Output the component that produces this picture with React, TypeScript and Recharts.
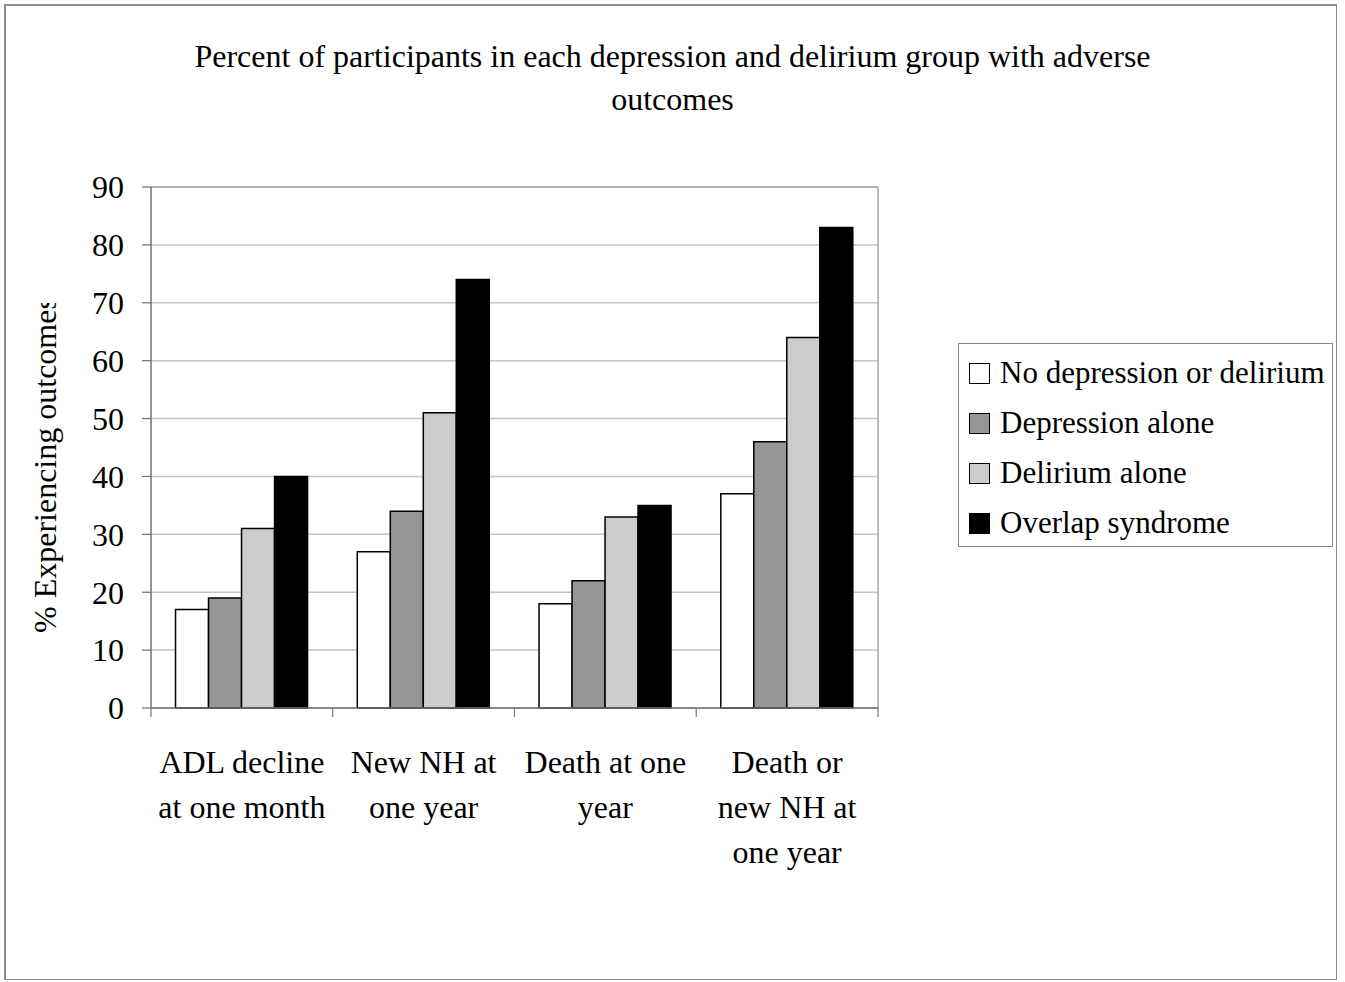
import React from 'react';
import { BarChart, Bar, XAxis, YAxis, CartesianGrid, ReferenceLine } from 'recharts';

// chart values
const categoryLines: string[][] = [
  ['ADL decline', 'at one month'],
  ['New NH at', 'one year'],
  ['Death at one', 'year'],
  ['Death or', 'new NH at', 'one year'],
];
const seriesNames = [
  'No depression or delirium',
  'Depression alone',
  'Delirium alone',
  'Overlap syndrome',
];
const seriesColors = ['#ffffff', '#969696', '#cccccc', '#000000'];
const noDepressionOrDelirium = [17, 27, 18, 37];
const depressionAlone = [19, 34, 22, 46];
const deliriumAlone = [31, 51, 33, 64];
const overlapSyndrome = [40, 74, 35, 83];
const yTicks = [0, 10, 20, 30, 40, 50, 60, 70, 80, 90];
const titleLines = [
  'Percent of participants in each depression and delirium group with adverse',
  'outcomes',
];
const yLabel = '% Experiencing outcomes';

const seriesValues = [noDepressionOrDelirium, depressionAlone, deliriumAlone, overlapSyndrome];
const seriesKeys = ['s0', 's1', 's2', 's3'];

const data = categoryLines.map((lines, i) => {
  const row: Record<string, any> = { name: lines.join(' ') };
  seriesKeys.forEach((k, s) => {
    row[k] = seriesValues[s][i];
  });
  return row;
});

const FONT = '"Liberation Serif", "Times New Roman", serif';
const W = 1345;
const H = 982;
const PLOT_LEFT = 151;
const PLOT_RIGHT = 878;
const PLOT_TOP = 187;
const PLOT_BOTTOM = 708;
const BAND = (PLOT_RIGHT - PLOT_LEFT) / categoryLines.length;

function CategoryTick({ x, index }: any) {
  const lines = categoryLines[index] ?? [];
  const left = x - BAND / 2;
  return (
    <g>
      <line x1={left} x2={left} y1={PLOT_BOTTOM} y2={PLOT_BOTTOM + 9} stroke="#777" strokeWidth={1.2} />
      {index === categoryLines.length - 1 && (
        <line x1={left + BAND} x2={left + BAND} y1={PLOT_BOTTOM} y2={PLOT_BOTTOM + 9} stroke="#777" strokeWidth={1.2} />
      )}
      <text x={x} y={773} textAnchor="middle" fontFamily={FONT} fontSize={32} fill="#000">
        {lines.map((l, i) => (
          <tspan key={i} x={x} dy={i === 0 ? 0 : 45}>
            {l}
          </tspan>
        ))}
      </text>
    </g>
  );
}

// the reference cuts the axis title off at the top
function renderYLabel() {
  return (
    <g>
      <defs>
        <clipPath id="ylabel-clip">
          <rect x={0} y={303} width={140} height={400} />
        </clipPath>
      </defs>
      <g clipPath="url(#ylabel-clip)">
        <text
          x={56}
          y={633}
          transform="rotate(-90, 56, 633)"
          fontFamily={FONT}
          fontSize={32}
          fill="#000"
        >
          {yLabel}
        </text>
      </g>
    </g>
  );
}

export default function App() {
  return (
    <div style={{ position: 'absolute', left: 0, top: 0, width: W, height: H, background: '#fff', fontFamily: FONT }}>
      <div
        style={{
          position: 'absolute',
          left: 4,
          top: 4,
          width: 1333,
          height: 976,
          boxSizing: 'border-box',
          border: '1px solid #8c8c8c',
          borderTopWidth: 2,
          borderLeftWidth: 2,
        }}
      />
      <div
        style={{
          position: 'absolute',
          left: 0,
          top: 35,
          width: W,
          textAlign: 'center',
          fontSize: 32,
          lineHeight: '43px',
          color: '#000',
        }}
      >
        {titleLines.map((t, i) => (
          <div key={i}>{t}</div>
        ))}
      </div>

      <div style={{ position: 'absolute', left: 0, top: 0 }}>
        <BarChart
          width={W}
          height={H}
          data={data}
          margin={{ top: PLOT_TOP, right: W - PLOT_RIGHT, bottom: 94, left: PLOT_LEFT - 100 }}
          barCategoryGap="13.5%"
          barGap={0}
        >
          <CartesianGrid horizontal vertical={false} stroke="#c4c4c4" strokeWidth={1.5} />
          <CartesianGrid
            horizontal={false}
            vertical
            stroke="#a6a6a6"
            strokeWidth={1.5}
            verticalCoordinatesGenerator={({ offset }: any) => [offset.left + offset.width]}
          />
          <XAxis
            dataKey="name"
            height={180}
            axisLine={{ stroke: '#6f6f6f', strokeWidth: 1.5 }}
            tickLine={false}
            interval={0}
            tick={<CategoryTick />}
          />
          <YAxis
            width={100}
            domain={[0, 90]}
            ticks={yTicks}
            interval={0}
            tickSize={9}
            tickMargin={18}
            axisLine={{ stroke: '#6f6f6f', strokeWidth: 1.5 }}
            tickLine={{ stroke: '#6f6f6f', strokeWidth: 1.2 }}
            tick={{ fill: '#000', fontSize: 32, fontFamily: FONT }}
            label={{ content: renderYLabel }}
          />
          <ReferenceLine y={90} stroke="#a6a6a6" strokeWidth={1.5} />
          {seriesKeys.map((k, s) => (
            <Bar
              key={k}
              dataKey={k}
              name={seriesNames[s]}
              fill={seriesColors[s]}
              stroke="#000"
              strokeWidth={1.5}
              isAnimationActive={false}
            />
          ))}
        </BarChart>
      </div>

      <div
        style={{
          position: 'absolute',
          left: 958,
          top: 343,
          width: 375,
          height: 204,
          boxSizing: 'border-box',
          border: '1px solid #888',
          paddingTop: 4,
          paddingLeft: 10,
          background: '#fff',
        }}
      >
        {seriesNames.map((n, s) => (
          <div key={n} style={{ display: 'flex', alignItems: 'center', height: 50, fontSize: 31, lineHeight: '50px' }}>
            <span
              style={{
                display: 'inline-block',
                width: 21,
                height: 21,
                boxSizing: 'border-box',
                border: '1.5px solid #000',
                background: seriesColors[s],
                marginRight: 10,
                flex: 'none',
              }}
            />
            <span style={{ whiteSpace: 'nowrap' }}>{n}</span>
          </div>
        ))}
      </div>
    </div>
  );
}
